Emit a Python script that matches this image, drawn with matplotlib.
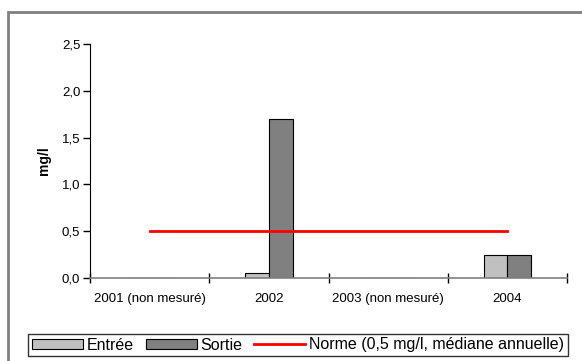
import matplotlib
matplotlib.use("Agg")
import matplotlib.pyplot as plt
import numpy as np
from matplotlib.patches import Rectangle
from matplotlib.ticker import FuncFormatter

plt.rcParams["font.family"] = ["Liberation Sans", "DejaVu Sans"]

YEARS = ["2001 (non mesuré)", "2002", "2003 (non mesuré)", "2004"]
ENTREE = [0.0, 0.05, 0.0, 0.25]
SORTIE = [0.0, 1.7, 0.0, 0.25]
NORME = [0.5, 0.5, 0.5, 0.5]

fig = plt.figure(figsize=(5.82, 3.61), dpi=100)
fig.patch.set_facecolor("white")

# grey outer border, open on the right and bottom
fig.patches.append(Rectangle((8 / 582, -0.1), 1.1, 1 - 12 / 361 + 0.1,
                             transform=fig.transFigure, fill=False,
                             edgecolor="#808080", linewidth=2, zorder=0))

ax = fig.add_axes([90 / 582, 1 - 278 / 361, 477 / 582, 234 / 361])
x = np.arange(len(YEARS))
w = 0.2
b1 = ax.bar(x - w / 2, ENTREE, w, color="#C0C0C0", edgecolor="black", linewidth=0.8,
            label="Entrée", zorder=2)
b2 = ax.bar(x + w / 2, SORTIE, w, color="#808080", edgecolor="black", linewidth=0.8,
            label="Sortie", zorder=2)
ln, = ax.plot(x, NORME, color="#FF0000", linewidth=2, zorder=3,
              label="Norme (0,5 mg/l, médiane annuelle)")

ax.set_xlim(-0.5, 3.5)
ax.set_ylim(0, 2.5)
ax.set_yticks(np.arange(0, 2.51, 0.5))
ax.yaxis.set_major_formatter(FuncFormatter(lambda v, p: f"{v:.1f}".replace(".", ",")))
ax.set_xticks([-0.5, 0.5, 1.5, 2.5, 3.5], minor=False)
ax.set_xticklabels([])
ax.set_xticks(x, minor=True)
ax.set_xticklabels(YEARS, minor=True)
ax.tick_params(axis="x", which="major", direction="inout", length=7, width=1, color="black")
ax.tick_params(axis="x", which="minor", length=0, pad=11, labelsize=9.5)
ax.tick_params(axis="y", direction="out", length=5, width=1, labelsize=9.5, pad=2)

for s in ("top", "right"):
    ax.spines[s].set_visible(False)
ax.spines["bottom"].set_color("#808080")
ax.spines["bottom"].set_linewidth(1.2)
ax.spines["left"].set_color("black")
ax.set_ylabel("mg/l", fontsize=10, fontweight="bold", labelpad=8)

leg = fig.legend([b1, b2, ln], [b1.get_label(), b2.get_label(), ln.get_label()],
                 loc="center", bbox_to_anchor=(298 / 582, 1 - 345 / 361), ncol=3,
                 fontsize=11.5, frameon=True, fancybox=False, edgecolor="black",
                 handlelength=3.2, handleheight=0.6, handletextpad=0.25,
                 columnspacing=0.7, borderpad=0.25, borderaxespad=0)
leg.get_frame().set_linewidth(1)

fig.savefig("out.png", dpi=100)
